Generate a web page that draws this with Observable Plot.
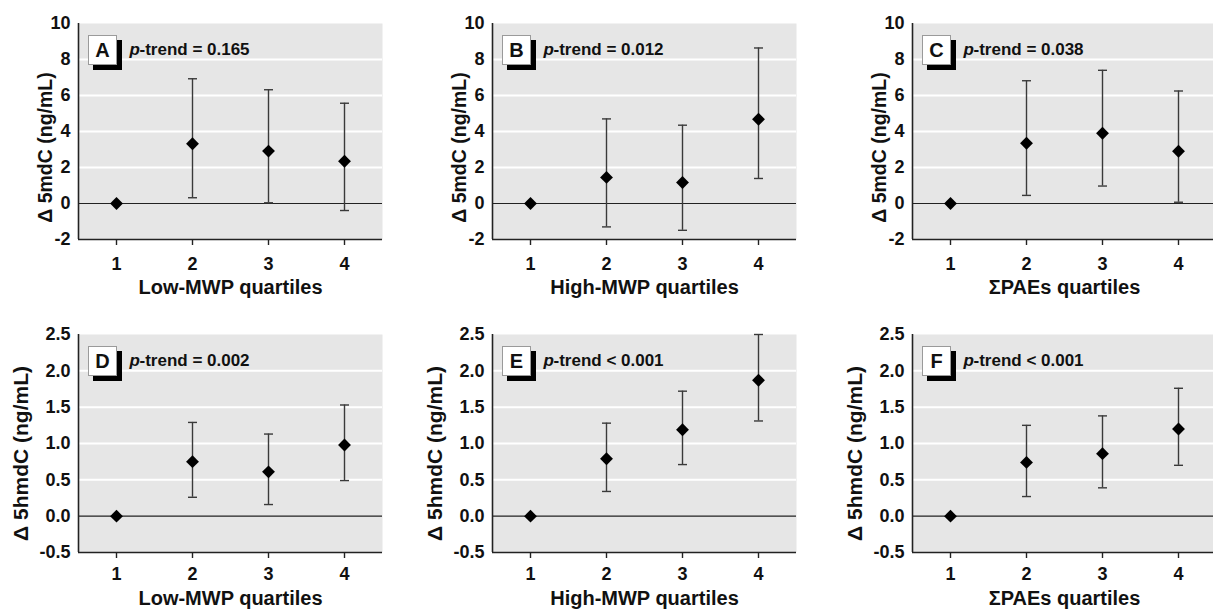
<!DOCTYPE html>
<html><head><meta charset="utf-8">
<script src="https://cdn.jsdelivr.net/npm/d3@7"></script>
<script src="https://cdn.jsdelivr.net/npm/@observablehq/plot@0.6"></script>
<style>
html,body{margin:0;padding:0;background:#fff;}
#fig{position:relative;width:1213px;height:609px;overflow:hidden;font-family:"Liberation Sans",Arial,sans-serif;}
.panel{position:absolute;width:384px;}
.panel svg{display:block;max-width:none !important;}
.tag{position:absolute;box-sizing:border-box;width:29px;height:30px;border:1px solid #9a9a9a;background:#fff;box-shadow:5px 5px 0 #000;font-weight:bold;font-size:20px;text-align:center;line-height:28px;color:#111;}
</style></head>
<body><div id="fig"></div>
<script>
// ---- data ----
const quartiles = [1, 2, 3, 4];
const xDomain = [0.5, 4.5];
const panelLetters = ["A", "B", "C", "D", "E", "F"];
const exposureLabels = ["Low-MWP quartiles", "High-MWP quartiles", "ΣPAEs quartiles"];
const outcomeLabels = ["Δ 5mdC (ng/mL)", "Δ 5hmdC (ng/mL)"];
const pTrendValues = ["= 0.165", "= 0.012", "= 0.038", "= 0.002", "< 0.001", "< 0.001"];
const mdcTicks = [-2, 0, 2, 4, 6, 8, 10];
const mdcTickLabels = ["-2", "0", "2", "4", "6", "8", "10"];
const hmdcTicks = [-0.5, 0, 0.5, 1, 1.5, 2, 2.5];
const hmdcTickLabels = ["-0.5", "0.0", "0.5", "1.0", "1.5", "2.0", "2.5"];

// A: 5mdC, Low-MWP
const aMean = [0, 3.32, 2.91, 2.35];
const aLower = [null, 0.32, 0.04, -0.39];
const aUpper = [null, 6.93, 6.32, 5.57];
// B: 5mdC, High-MWP
const bMean = [0, 1.45, 1.17, 4.68];
const bLower = [null, -1.30, -1.49, 1.39];
const bUpper = [null, 4.70, 4.35, 8.64];
// C: 5mdC, ΣPAEs
const cMean = [0, 3.35, 3.90, 2.90];
const cLower = [null, 0.45, 0.97, 0.07];
const cUpper = [null, 6.82, 7.40, 6.25];
// D: 5hmdC, Low-MWP
const dMean = [0, 0.75, 0.61, 0.98];
const dLower = [null, 0.26, 0.16, 0.49];
const dUpper = [null, 1.29, 1.13, 1.53];
// E: 5hmdC, High-MWP
const eMean = [0, 0.79, 1.19, 1.87];
const eLower = [null, 0.34, 0.71, 1.31];
const eUpper = [null, 1.28, 1.72, 2.50];
// F: 5hmdC, ΣPAEs
const fMean = [0, 0.74, 0.86, 1.20];
const fLower = [null, 0.27, 0.39, 0.70];
const fUpper = [null, 1.25, 1.38, 1.76];

const panels = [
  [aMean, aLower, aUpper], [bMean, bLower, bUpper], [cMean, cLower, cUpper],
  [dMean, dLower, dUpper], [eMean, eLower, eUpper], [fMean, fLower, fUpper]
];

// ---- drawing ----
const FONT = '"Liberation Sans", Arial, Helvetica, sans-serif';
const capSymbol = {
  draw(ctx, size) {
    const r = Math.sqrt(size / Math.PI);
    ctx.moveTo(-r, 0);
    ctx.lineTo(r, 0);
  }
};
const colLeft = [0, 414, 834];
const fig = document.getElementById("fig");

panels.forEach(([mean, lower, upper], i) => {
  const row = Math.floor(i / 3), col = i % 3;
  const ticks = row === 0 ? mdcTicks : hmdcTicks;
  const tickLabels = row === 0 ? mdcTickLabels : hmdcTickLabels;
  const yDomain = [ticks[0], ticks[ticks.length - 1]];
  const data = quartiles.map((q, k) => ({q, m: mean[k], lo: lower[k], hi: upper[k]}));
  const bars = data.filter(d => d.lo != null);
  const height = row === 0 ? 300 : 309;
  const marginTop = row === 0 ? 23 : 34;
  const marginBottom = row === 0 ? 61 : 57;

  const chart = Plot.plot({
    width: 384, height,
    marginLeft: 78, marginRight: 2, marginTop, marginBottom,
    style: {fontFamily: FONT, fontWeight: "bold", color: "#111", background: "transparent", overflow: "visible"},
    x: {domain: xDomain},
    y: {domain: yDomain},
    marks: [
      Plot.frame({fill: "#e6e6e6", stroke: null}),
      Plot.gridY(ticks.filter(t => t !== 0 && t !== yDomain[0] && t !== yDomain[1]),
        {stroke: "#ffffff", strokeOpacity: 1, strokeWidth: 2}),
      Plot.ruleY([0], {stroke: "#222", strokeWidth: 1.2}),
      Plot.ruleX(bars, {x: "q", y1: "lo", y2: "hi", stroke: "#3a3a3a", strokeWidth: 1.4}),
      Plot.dot(bars, {x: "q", y: "lo", symbol: capSymbol, r: 4.5, fill: "none", stroke: "#3a3a3a", strokeWidth: 1.4}),
      Plot.dot(bars, {x: "q", y: "hi", symbol: capSymbol, r: 4.5, fill: "none", stroke: "#3a3a3a", strokeWidth: 1.4}),
      Plot.dot(data, {x: "q", y: "m", symbol: "diamond2", r: 5.8, fill: "#000", stroke: "none"}),
      Plot.ruleX(xDomain.slice(0, 1), {stroke: "#222", strokeWidth: 1.6}),
      Plot.ruleY(yDomain.slice(0, 1), {stroke: "#222", strokeWidth: 1.6}),
      Plot.axisY({ticks, tickSize: 0, tickPadding: 8, fontSize: 18, fontWeight: "bold",
        tickFormat: d => tickLabels[ticks.indexOf(d)], label: null}),
      Plot.axisX({ticks: quartiles, tickSize: 6, tickPadding: row === 0 ? 12 : 9, fontSize: 18, fontWeight: "bold",
        stroke: "#222", strokeWidth: 1.4, tickFormat: d => String(d), label: null}),
      Plot.text([outcomeLabels[row]], {frameAnchor: "left", rotate: -90, dx: row === 0 ? -33 : -57,
        dy: row === 0 ? 16 : 10,
        fontSize: row === 0 ? 19.5 : 21, fontWeight: "bold", textAnchor: "middle", lineAnchor: "middle", fill: "#111"}),
      Plot.text([exposureLabels[col]], {frameAnchor: "bottom", dy: row === 0 ? 48 : 46, fontSize: 20,
        fontWeight: "bold", textAnchor: "middle", lineAnchor: "middle", fill: "#111"}),
      Plot.text(["p"], {frameAnchor: "top-left", dx: 51, dy: 26, fontSize: 17, fontWeight: "bold",
        fontStyle: "italic", textAnchor: "start", lineAnchor: "middle", fill: "#111"}),
      Plot.text(["-trend " + pTrendValues[i]], {frameAnchor: "top-left", dx: 61, dy: 26, fontSize: 17,
        fontWeight: "bold", textAnchor: "start", lineAnchor: "middle", fill: "#111"})
    ]
  });
  chart.style.maxWidth = "none";

  const wrap = document.createElement("div");
  wrap.className = "panel";
  wrap.style.left = colLeft[col] + "px";
  wrap.style.top = (row === 0 ? 0 : 300) + "px";
  wrap.appendChild(chart);
  const tag = document.createElement("div");
  tag.className = "tag";
  tag.textContent = panelLetters[i];
  tag.style.left = (78 + 10) + "px";
  tag.style.top = (marginTop + 12) + "px";
  wrap.appendChild(tag);
  fig.appendChild(wrap);
});
</script>
</body></html>
